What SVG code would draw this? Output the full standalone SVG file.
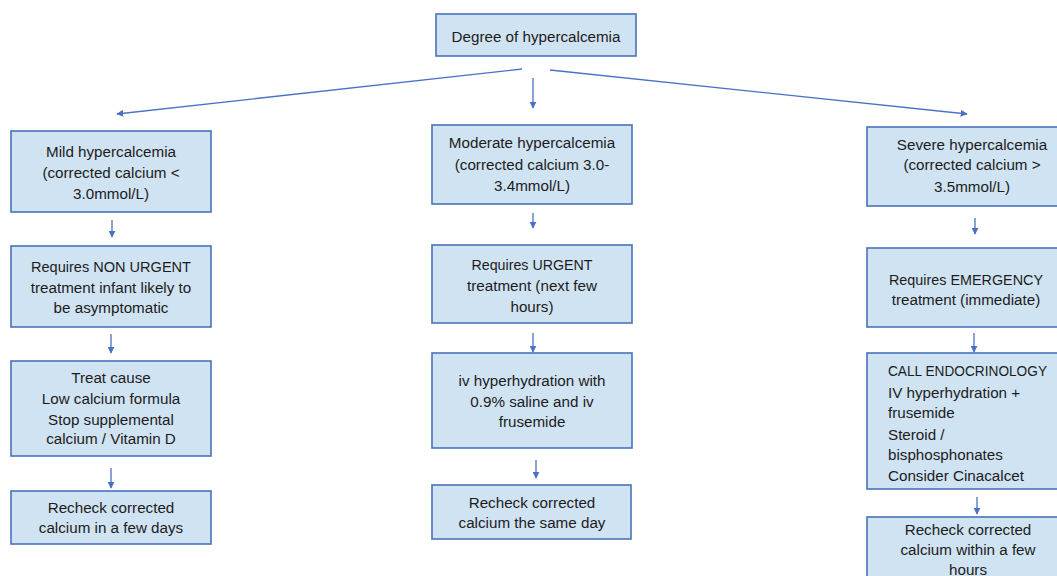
<svg xmlns="http://www.w3.org/2000/svg" width="1057" height="576" viewBox="0 0 1057 576">
<style>
.box{fill:#d0e3f3;stroke:#4a72bb;stroke-width:1.6}
.t{font-family:"Liberation Sans",Arial,sans-serif;font-size:15.2px;fill:#1c1c1c;text-anchor:middle}
.l{text-anchor:start}
.c{stroke:#4a72c4;stroke-width:1.3;fill:none;marker-end:url(#ah)}
</style>
<defs>
<marker id="ah" viewBox="0 0 10 10" refX="9" refY="5" markerWidth="7" markerHeight="7" markerUnits="userSpaceOnUse" orient="auto">
<path d="M0,0 L10,5 L0,10 z" fill="#4a72c4"/>
</marker>
</defs>
<rect width="1057" height="576" fill="#ffffff"/>
<g id="connectors">
<line class="c" x1="522" y1="69" x2="117" y2="114"/>
<line class="c" x1="550" y1="70" x2="967" y2="114"/>
<line class="c" x1="533" y1="78" x2="533" y2="108"/>
<line class="c" x1="112" y1="220" x2="112" y2="237"/>
<line class="c" x1="111" y1="334" x2="111" y2="353"/>
<line class="c" x1="111" y1="468" x2="111" y2="488"/>
<line class="c" x1="533" y1="213" x2="533" y2="228"/>
<line class="c" x1="533" y1="333" x2="533" y2="352"/>
<line class="c" x1="536" y1="460" x2="536" y2="478"/>
<line class="c" x1="975" y1="218" x2="975" y2="234"/>
<line class="c" x1="974" y1="333" x2="974" y2="352"/>
<line class="c" x1="977" y1="497" x2="977" y2="514"/>
</g>
<g id="top">
<rect class="box" x="436" y="14" width="200" height="42"/>
<text class="t" x="536" y="42">Degree of hypercalcemia</text>
</g>
<g id="mild">
<rect class="box" x="11" y="131" width="200" height="81"/>
<text class="t" x="111" y="157">Mild hypercalcemia</text>
<text class="t" x="111" y="178">(corrected calcium &lt;</text>
<text class="t" x="111" y="199">3.0mmol/L)</text>
</g>
<g id="mild-urgency">
<rect class="box" x="11" y="246" width="200" height="81"/>
<text class="t" x="111" y="272" textLength="160" lengthAdjust="spacingAndGlyphs">Requires NON URGENT</text>
<text class="t" x="111" y="293">treatment infant likely to</text>
<text class="t" x="111" y="313">be asymptomatic</text>
</g>
<g id="mild-treatment">
<rect class="box" x="11" y="361" width="200" height="95"/>
<text class="t" x="111" y="383">Treat cause</text>
<text class="t" x="111" y="404">Low calcium formula</text>
<text class="t" x="111" y="425">Stop supplemental</text>
<text class="t" x="111" y="444">calcium / Vitamin D</text>
</g>
<g id="mild-recheck">
<rect class="box" x="11" y="491" width="200" height="53"/>
<text class="t" x="111" y="513">Recheck corrected</text>
<text class="t" x="111" y="533">calcium in a few days</text>
</g>
<g id="moderate">
<rect class="box" x="432" y="125" width="200" height="79"/>
<text class="t" x="532" y="148">Moderate hypercalcemia</text>
<text class="t" x="532" y="170">(corrected calcium 3.0-</text>
<text class="t" x="532" y="191">3.4mmol/L)</text>
</g>
<g id="moderate-urgency">
<rect class="box" x="432" y="245" width="200" height="78"/>
<text class="t" x="532" y="270" textLength="121" lengthAdjust="spacingAndGlyphs">Requires URGENT</text>
<text class="t" x="532" y="291">treatment (next few</text>
<text class="t" x="532" y="312">hours)</text>
</g>
<g id="moderate-treatment">
<rect class="box" x="432" y="353" width="200" height="95"/>
<text class="t" x="532" y="386">iv hyperhydration with</text>
<text class="t" x="532" y="407">0.9% saline and iv</text>
<text class="t" x="532" y="427">frusemide</text>
</g>
<g id="moderate-recheck">
<rect class="box" x="432" y="485" width="199" height="54"/>
<text class="t" x="532" y="508">Recheck corrected</text>
<text class="t" x="532" y="528">calcium the same day</text>
</g>
<g id="severe">
<rect class="box" x="867" y="127" width="210" height="79"/>
<text class="t" x="972" y="150">Severe hypercalcemia</text>
<text class="t" x="972" y="170">(corrected calcium &gt;</text>
<text class="t" x="972" y="192">3.5mmol/L)</text>
</g>
<g id="severe-urgency">
<rect class="box" x="867" y="248" width="210" height="79"/>
<text class="t" x="966" y="285" textLength="154" lengthAdjust="spacingAndGlyphs">Requires EMERGENCY</text>
<text class="t" x="966" y="305">treatment (immediate)</text>
</g>
<g id="severe-treatment">
<rect class="box" x="867" y="353" width="210" height="136"/>
<text class="t l" x="888" y="376" textLength="159" lengthAdjust="spacingAndGlyphs">CALL ENDOCRINOLOGY</text>
<text class="t l" x="888" y="398">IV hyperhydration +</text>
<text class="t l" x="888" y="418">frusemide</text>
<text class="t l" x="888" y="440">Steroid /</text>
<text class="t l" x="888" y="460">bisphosphonates</text>
<text class="t l" x="888" y="481">Consider Cinacalcet</text>
</g>
<g id="severe-recheck">
<rect class="box" x="867" y="517" width="210" height="80"/>
<text class="t" x="968" y="535">Recheck corrected</text>
<text class="t" x="968" y="555">calcium within a few</text>
<text class="t" x="968" y="575">hours</text>
</g>
</svg>
